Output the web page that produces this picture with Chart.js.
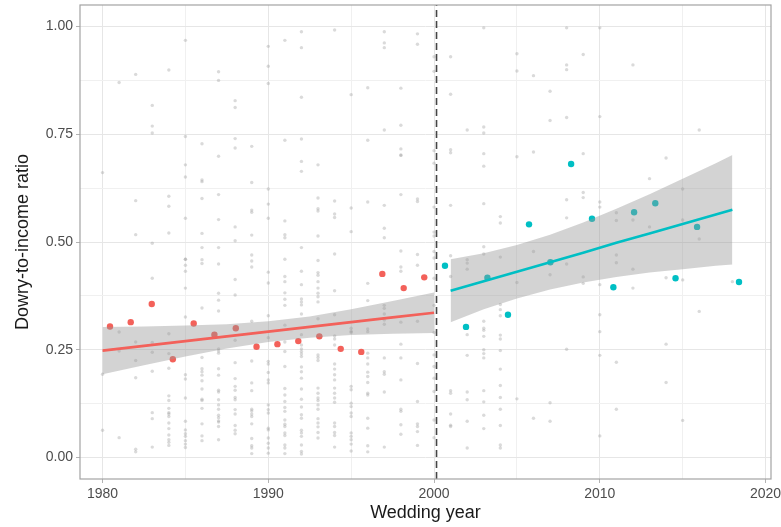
<!DOCTYPE html>
<html>
<head>
<meta charset="utf-8">
<script src="https://cdn.jsdelivr.net/npm/chart.js@4/dist/chart.umd.min.js"></script>
<style>
    html, body { margin: 0; padding: 0; background: #ffffff; }
    #wrap { width: 781px; height: 527px; position: relative; }
</style>
</head>
<body>
<div id="wrap"><canvas id="dowryChart"></canvas></div>
<script>
// individual weddings (grey dots), one list of ratios per wedding year
const grayYears = [1980, 1981, 1982, 1983, 1984, 1985, 1986, 1987, 1988, 1989,
    1990, 1991, 1992, 1993, 1994, 1995, 1996, 1997, 1998, 1999,
    2000, 2001, 2002, 2003, 2004, 2005, 2006, 2007, 2008, 2009,
    2010, 2011, 2012, 2013, 2014, 2015, 2016, 2018];
const grayValues = [
    [0.661, 0.193, 0.063],
    [0.870, 0.291, 0.247, 0.046],
    [0.889, 0.596, 0.517, 0.268, 0.225, 0.185, 0.019, 0.013],
    [0.817, 0.769, 0.753, 0.497, 0.416, 0.267, 0.244, 0.200, 0.104, 0.090, 0.024],
    [0.899, 0.606, 0.583, 0.521, 0.287, 0.241, 0.207, 0.143, 0.132, 0.114, 0.104, 0.101, 0.095, 0.080, 0.067, 0.052, 0.041, 0.035, 0.028],
    [0.968, 0.745, 0.679, 0.651, 0.555, 0.460, 0.460, 0.446, 0.432, 0.393, 0.326, 0.192, 0.182, 0.138, 0.084, 0.064, 0.055, 0.049, 0.039, 0.031, 0.023],
    [0.728, 0.644, 0.640, 0.601, 0.520, 0.487, 0.459, 0.450, 0.347, 0.232, 0.206, 0.199, 0.191, 0.178, 0.159, 0.135, 0.132, 0.114, 0.078, 0.050, 0.039],
    [0.895, 0.875, 0.699, 0.610, 0.552, 0.487, 0.449, 0.381, 0.365, 0.340, 0.252, 0.247, 0.242, 0.206, 0.191, 0.156, 0.152, 0.134, 0.122, 0.112, 0.098, 0.092, 0.085, 0.082, 0.072, 0.041],
    [0.828, 0.812, 0.740, 0.718, 0.535, 0.503, 0.413, 0.377, 0.272, 0.220, 0.183, 0.165, 0.156, 0.139, 0.134, 0.111, 0.101, 0.074, 0.063, 0.055],
    [0.722, 0.638, 0.574, 0.569, 0.516, 0.470, 0.456, 0.442, 0.316, 0.224, 0.173, 0.155, 0.112, 0.108, 0.101, 0.095, 0.078, 0.044, 0.027, 0.022, 0.009],
    [0.954, 0.908, 0.868, 0.623, 0.588, 0.555, 0.430, 0.405, 0.329, 0.278, 0.223, 0.217, 0.197, 0.180, 0.173, 0.122, 0.111, 0.103, 0.068, 0.064, 0.045, 0.033, 0.022, 0.010],
    [0.968, 0.736, 0.549, 0.517, 0.510, 0.460, 0.420, 0.408, 0.382, 0.367, 0.353, 0.307, 0.268, 0.246, 0.211, 0.160, 0.145, 0.130, 0.116, 0.107, 0.087, 0.077, 0.072, 0.057, 0.051, 0.029, 0.022, 0.009],
    [0.988, 0.951, 0.836, 0.739, 0.687, 0.664, 0.487, 0.432, 0.401, 0.368, 0.361, 0.354, 0.333, 0.285, 0.261, 0.252, 0.246, 0.240, 0.234, 0.210, 0.199, 0.184, 0.159, 0.135, 0.117, 0.099, 0.091, 0.063, 0.057, 0.049, 0.029, 0.014, 0.008],
    [0.679, 0.602, 0.577, 0.572, 0.514, 0.457, 0.429, 0.423, 0.408, 0.393, 0.381, 0.373, 0.361, 0.322, 0.238, 0.232, 0.225, 0.161, 0.149, 0.138, 0.132, 0.122, 0.112, 0.090, 0.080, 0.071, 0.058, 0.045],
    [0.992, 0.595, 0.565, 0.557, 0.472, 0.387, 0.331, 0.282, 0.275, 0.261, 0.217, 0.205, 0.192, 0.180, 0.161, 0.149, 0.138, 0.128, 0.080, 0.072, 0.058, 0.051, 0.024],
    [0.842, 0.579, 0.524, 0.300, 0.293, 0.290, 0.165, 0.157, 0.126, 0.118, 0.103, 0.095, 0.057, 0.049, 0.041, 0.031, 0.015],
    [0.858, 0.736, 0.593, 0.404, 0.364, 0.298, 0.292, 0.242, 0.231, 0.217, 0.198, 0.188, 0.174, 0.149, 0.145, 0.091, 0.068, 0.027, 0.013],
    [0.988, 0.962, 0.951, 0.760, 0.585, 0.532, 0.510, 0.353, 0.346, 0.333, 0.319, 0.309, 0.231, 0.199, 0.193, 0.152, 0.024],
    [0.857, 0.771, 0.716, 0.702, 0.701, 0.610, 0.479, 0.442, 0.432, 0.314, 0.263, 0.231, 0.180, 0.112, 0.107, 0.076, 0.054],
    [0.983, 0.959, 0.600, 0.594, 0.471, 0.446, 0.316, 0.218, 0.130, 0.078, 0.072, 0.060, 0.028],
    [0.930, 0.896, 0.712, 0.683, 0.581, 0.523, 0.514, 0.478, 0.463, 0.416, 0.353, 0.290, 0.238, 0.211, 0.184, 0.153, 0.087, 0.046],
    [0.930, 0.843, 0.714, 0.707, 0.585, 0.468, 0.420, 0.155, 0.149, 0.101, 0.075, 0.072],
    [0.760, 0.459, 0.451, 0.437, 0.285, 0.237, 0.152, 0.134, 0.084, 0.022],
    [0.997, 0.767, 0.753, 0.705, 0.676, 0.589, 0.489, 0.472, 0.316, 0.300, 0.295, 0.281, 0.250, 0.241, 0.231, 0.155, 0.129, 0.098, 0.067],
    [0.559, 0.544, 0.465, 0.355, 0.343, 0.329, 0.284, 0.275, 0.248, 0.205, 0.167, 0.139, 0.112, 0.074, 0.029, 0.022],
    [0.937, 0.897, 0.698, 0.406, 0.136],
    [0.886, 0.709, 0.478, 0.091],
    [0.850, 0.782, 0.424, 0.127, 0.084],
    [0.997, 0.911, 0.900, 0.789, 0.598, 0.556, 0.449, 0.251],
    [0.935, 0.705, 0.615, 0.603, 0.419, 0.404],
    [0.997, 0.791, 0.593, 0.581, 0.401, 0.331, 0.292, 0.237, 0.050],
    [0.568, 0.550, 0.470, 0.452, 0.221, 0.112],
    [0.911, 0.551, 0.437, 0.393],
    [0.647, 0.535],
    [0.695, 0.417, 0.263, 0.174],
    [0.623, 0.551, 0.412, 0.086],
    [0.760, 0.507, 0.339],
    [0.408]
];

// binned means, before and after the cut-off
const preYears = [1980.45, 1981.70, 1982.97, 1984.24, 1985.50, 1986.75, 1988.04, 1989.29,
    1990.55, 1991.81, 1993.08, 1994.37, 1995.61, 1996.88, 1998.17, 1999.41];
const preMeans = [0.304, 0.314, 0.356, 0.228, 0.311, 0.285, 0.300, 0.257,
    0.263, 0.270, 0.281, 0.252, 0.245, 0.426, 0.393, 0.418];
const postYears = [2000.66, 2001.93, 2003.22, 2004.46, 2005.73, 2007.02, 2008.27, 2009.53,
    2010.82, 2012.07, 2013.35, 2014.57, 2015.87, 2018.40];
const postMeans = [0.445, 0.303, 0.417, 0.331, 0.541, 0.453, 0.681, 0.554,
    0.395, 0.569, 0.590, 0.416, 0.535, 0.407];

// linear fits with confidence band
const preFitYears = [1980, 1982.5, 1985, 1987.5, 1990, 1992.5, 1995, 1997.5, 2000];
const preFit = [0.248, 0.259, 0.270, 0.281, 0.292, 0.303, 0.314, 0.325, 0.336];
const preUpper = [0.303, 0.304, 0.306, 0.309, 0.316, 0.327, 0.344, 0.363, 0.383];
const preLower = [0.193, 0.214, 0.234, 0.253, 0.268, 0.278, 0.284, 0.287, 0.289];
const postFitYears = [2001, 2003, 2005, 2007, 2009, 2011, 2013, 2015, 2017, 2018];
const postFit = [0.387, 0.409, 0.431, 0.453, 0.475, 0.498, 0.520, 0.542, 0.564, 0.575];
const postUpper = [0.460, 0.474, 0.493, 0.517, 0.545, 0.577, 0.611, 0.647, 0.683, 0.702];
const postLower = [0.314, 0.344, 0.369, 0.390, 0.406, 0.419, 0.429, 0.437, 0.445, 0.448];

const cutoffYear = 2000.15;
const xTicks = [1980, 1985, 1990, 1995, 2000, 2005, 2010, 2015, 2020];
const yTicks = [0, 0.125, 0.25, 0.375, 0.5, 0.625, 0.75, 0.875, 1];
const xRange = [1978.64, 2020.33];
const yRange = [-0.05, 1.05];

const RED = '#F3615A';
const TEAL = '#00BFC4';
const BAND = 'rgba(150,150,150,0.42)';

function pairs(xs, ys) {
    return xs.map((x, i) => ({ x: x, y: ys[i] }));
}

document.addEventListener('DOMContentLoaded', function () {
    const grayPoints = [];
    grayYears.forEach((yr, i) => {
        grayValues[i].forEach(v => grayPoints.push({ x: yr, y: v }));
    });

    const panelBorder = {
        id: 'panelBorder',
        afterDraw(chart) {
            const a = chart.chartArea;
            const ctx = chart.ctx;
            ctx.save();
            ctx.strokeStyle = '#a3a3a3';
            ctx.lineWidth = 1.2;
            ctx.strokeRect(a.left, a.top, a.right - a.left, a.bottom - a.top);
            ctx.restore();
        }
    };

    const isMajorX = v => v % 10 === 0;
    const isMajorY = v => Math.abs(v * 4 - Math.round(v * 4)) < 1e-6;

    const band = (xs, up, lo, order) => [
        { data: pairs(xs, up), showLine: true, borderWidth: 0, pointRadius: 0, backgroundColor: BAND, fill: '+1', order: order },
        { data: pairs(xs, lo), showLine: true, borderWidth: 0, pointRadius: 0, fill: false, order: order }
    ];

    new Chart(document.getElementById('dowryChart'), {
        type: 'scatter',
        data: {
            datasets: [
                {
                    data: [{ x: cutoffYear, y: yRange[0] }, { x: cutoffYear, y: yRange[1] }],
                    showLine: true, borderColor: '#454545', borderWidth: 1.6, borderDash: [7, 4],
                    pointRadius: 0, order: 0
                },
                { data: pairs(preFitYears, preFit), showLine: true, borderColor: RED, borderWidth: 2.6, pointRadius: 0, order: 1 },
                { data: pairs(postFitYears, postFit), showLine: true, borderColor: TEAL, borderWidth: 2.6, pointRadius: 0, order: 1 },
                ...band(preFitYears, preUpper, preLower, 2),
                ...band(postFitYears, postUpper, postLower, 2),
                { data: pairs(preYears, preMeans), pointRadius: 3.2, pointBackgroundColor: RED, pointBorderWidth: 0, order: 3 },
                { data: pairs(postYears, postMeans), pointRadius: 3.2, pointBackgroundColor: TEAL, pointBorderWidth: 0, order: 3 },
                { data: grayPoints, pointRadius: 1.7, pointBackgroundColor: 'rgba(150,150,150,0.35)', pointBorderWidth: 0, order: 4 }
            ]
        },
        options: {
            responsive: true,
            maintainAspectRatio: false,
            animation: false,
            events: [],
            layout: { padding: { top: 5, right: 10, left: 0, bottom: 0 } },
            plugins: {
                legend: { display: false },
                tooltip: { enabled: false }
            },
            scales: {
                x: {
                    type: 'linear',
                    min: xRange[0],
                    max: xRange[1],
                    afterBuildTicks: s => { s.ticks = xTicks.map(v => ({ value: v })); },
                    afterFit: s => { s.height = 48; s.paddingLeft = 0; s.paddingRight = 0; },
                    border: { display: false },
                    grid: {
                        color: c => isMajorX(c.tick.value) ? '#e6e6e6' : '#f0f0f0',
                        lineWidth: 1,
                        tickLength: 4,
                        tickColor: c => isMajorX(c.tick.value) ? '#b3b3b3' : 'rgba(0,0,0,0)'
                    },
                    ticks: {
                        autoSkip: false,
                        maxRotation: 0,
                        padding: 3,
                        color: '#4d4d4d',
                        font: { family: 'Liberation Sans', size: 14 },
                        callback: v => isMajorX(v) ? String(v) : ''
                    },
                    title: {
                        display: true,
                        text: 'Wedding year',
                        color: '#1a1a1a',
                        font: { family: 'Liberation Sans', size: 18 },
                        padding: { top: 2, bottom: 3 }
                    }
                },
                y: {
                    type: 'linear',
                    min: yRange[0],
                    max: yRange[1],
                    afterBuildTicks: s => { s.ticks = yTicks.map(v => ({ value: v })); },
                    afterFit: s => { s.width = 80; s.paddingTop = 0; s.paddingBottom = 0; },
                    border: { display: false },
                    grid: {
                        color: c => isMajorY(c.tick.value) ? '#e6e6e6' : '#f0f0f0',
                        lineWidth: 1,
                        tickLength: 4,
                        tickColor: c => isMajorY(c.tick.value) ? '#b3b3b3' : 'rgba(0,0,0,0)'
                    },
                    ticks: {
                        autoSkip: false,
                        padding: 3,
                        color: '#4d4d4d',
                        font: { family: 'Liberation Sans', size: 14 },
                        callback: v => isMajorY(v) ? v.toFixed(2) : ''
                    },
                    title: {
                        display: true,
                        text: 'Dowry-to-income ratio',
                        color: '#1a1a1a',
                        font: { family: 'Liberation Sans', size: 18 },
                        padding: { top: 12, bottom: 0 }
                    }
                }
            }
        },
        plugins: [panelBorder]
    });
});
</script>
</body>
</html>
